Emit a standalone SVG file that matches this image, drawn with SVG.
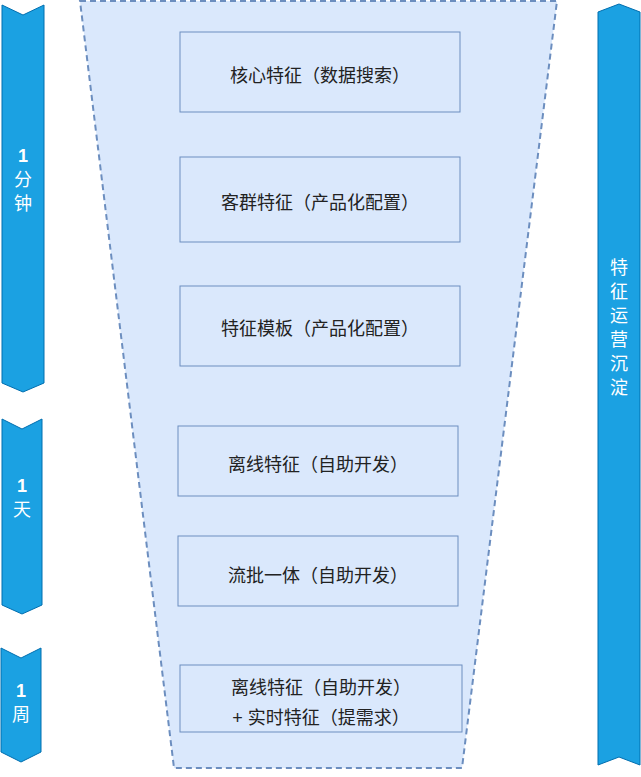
<svg xmlns="http://www.w3.org/2000/svg" width="641" height="777" viewBox="0 0 641 777">
<style>
.arrow{fill:#1ba1e2;stroke:#006eaf;stroke-width:1}
.box{fill:#dae8fc;stroke:#6c8ebf;stroke-width:1}
.funnel{fill:#dae8fc;stroke:#6c8ebf;stroke-width:2;stroke-dasharray:6 4}
.t{font-family:"Liberation Sans","Noto Sans CJK SC",sans-serif;font-size:18px;fill:#222222;text-anchor:middle}
.w{font-family:"Liberation Sans","Noto Sans CJK SC",sans-serif;font-size:18px;fill:#ffffff;text-anchor:middle}
.b{font-weight:bold}
</style>
<rect width="641" height="777" fill="#ffffff"/>
<g id="funnel"><polygon class="funnel" points="80,1 557,1 462,768 174,768"/></g>
<g id="arrow-1min"><polygon class="arrow" points="2,5 23,15 44,5 44,383 23,392 2,383"/>
<text class="w b" x="23" y="162">1</text><text class="w" x="23" y="186">分</text><text class="w" x="23" y="210">钟</text></g>
<g id="arrow-1day"><polygon class="arrow" points="2,419 22,429 42,419 42,605 22,614 2,605"/>
<text class="w b" x="22" y="492">1</text><text class="w" x="22" y="516">天</text></g>
<g id="arrow-1week"><polygon class="arrow" points="1,648 21,658 41,648 41,752 21,762 1,752"/>
<text class="w b" x="21" y="697">1</text><text class="w" x="21" y="721">周</text></g>
<g id="arrow-ops"><polygon class="arrow" points="598,12 619,4 640,12 640,765 619,757 598,765"/>
<text class="w" x="619" y="274">特</text><text class="w" x="619" y="298">征</text><text class="w" x="619" y="322">运</text><text class="w" x="619" y="346">营</text><text class="w" x="619" y="370">沉</text><text class="w" x="619" y="394">淀</text></g>
<g id="box1"><rect class="box" x="180" y="32" width="280" height="80"/><text class="t" x="320" y="82">核心特征（数据搜索）</text></g>
<g id="box2"><rect class="box" x="180" y="157" width="280" height="85"/><text class="t" x="320" y="209">客群特征（产品化配置）</text></g>
<g id="box3"><rect class="box" x="180" y="286" width="280" height="80"/><text class="t" x="320" y="335">特征模板（产品化配置）</text></g>
<g id="box4"><rect class="box" x="178" y="426" width="280" height="70"/><text class="t" x="318" y="471">离线特征（自助开发）</text></g>
<g id="box5"><rect class="box" x="178" y="536" width="280" height="70"/><text class="t" x="318" y="582">流批一体（自助开发）</text></g>
<g id="box6"><rect class="box" x="180" y="665" width="282" height="67"/><text class="t" x="321" y="694">离线特征（自助开发）</text><text class="t" x="321" y="724">+ 实时特征（提需求）</text></g>
<g id="connectors"></g>
</svg>
